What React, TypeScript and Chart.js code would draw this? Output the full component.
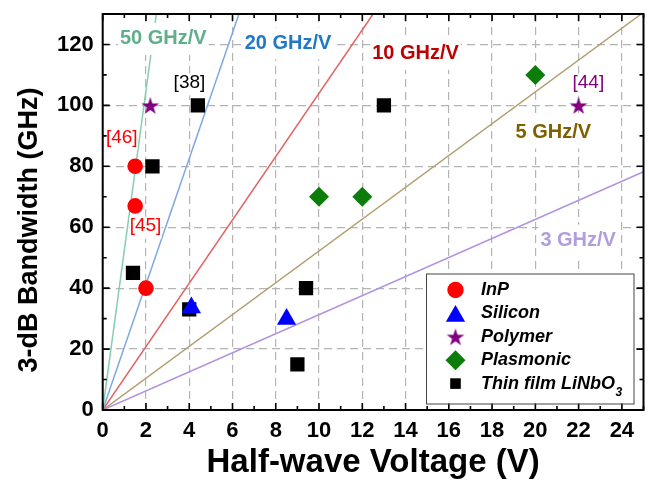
import React, { useEffect, useRef } from 'react';
import { Chart, registerables } from 'chart.js';

Chart.register(...registerables);

const FONT = '"Liberation Sans", Arial, Helvetica, sans-serif';

// ---- axis ticks ----
const xTicks = [0, 2, 4, 6, 8, 10, 12, 14, 16, 18, 20, 22, 24];
const yTicks = [0, 20, 40, 60, 80, 100, 120];
const xMax = 25;
const yMax = 130;

// ---- series ----
const inpX = [1.5, 1.5, 2.0];
const inpY = [80, 67, 40];
const siliconX = [4.1, 8.5];
const siliconY = [33.6, 29.8];
const polymerX = [2.2, 22];
const polymerY = [100, 100];
const plasmonicX = [10, 12, 20];
const plasmonicY = [70, 70, 110];
const lnX = [1.4, 2.3, 4.0, 4.4, 9.0, 9.4, 13.0];
const lnY = [45, 80, 33, 100, 15, 40, 100];

const seriesNames = ['InP', 'Silicon', 'Polymer', 'Plasmonic', 'Thin film LiNbO'];
const lnSubscript = '3';

// ---- guide lines (GHz/V) ----
const guideLabels = ['50 GHz/V', '20 GHz/V', '10 GHz/V', '5 GHz/V', '3 GHz/V'];
const guideEndX = [2.48, 6.3, 12.5, 24.9, 25];
const guideEndY = [130, 130, 130, 130, 78.2];
const guideLabelX = [2.8, 8.57, 14.46, 20.83, 21.98];
const guideLabelY = [121.8, 120.3, 116.9, 91.1, 55.6];

// ---- reference tags ----
const refTags = ['[38]', '[46]', '[45]', '[44]'];
const refTagX = [4.01, 0.88, 1.98, 22.45];
const refTagY = [106.9, 88.9, 59.8, 106.8];

// ---- styles ----
const guideLineColors = ['#86cdb0', '#7ea8e2', '#e26464', '#b39d70', '#b393df'];
const guideTextColors = ['#5fae8c', '#1f78c8', '#c00000', '#7f6000', '#b39ddc'];
const refTagColors = ['#000000', '#ff0000', '#ff0000', '#800080'];
const seriesColors = ['#ff0000', '#0000ff', '#800080', '#0a7d0a', '#000000'];

const pts = (xs: number[], ys: number[]) => xs.map((x, i) => ({ x, y: ys[i] }));

function makeStar(R: number, color: string): HTMLCanvasElement {
  const inner = R * 0.382;
  const w = Math.ceil(2 * R * Math.sin((72 * Math.PI) / 180)) + 2;
  const h = Math.ceil(R * (1 + Math.cos(Math.PI / 5))) + 2;
  const c = document.createElement('canvas');
  c.width = w;
  c.height = h;
  const ctx = c.getContext('2d')!;
  const cx = w / 2;
  const cy = h / 2 + (R * (1 - Math.cos(Math.PI / 5))) / 2;
  ctx.beginPath();
  for (let i = 0; i < 10; i++) {
    const r = i % 2 ? inner : R;
    const a = -Math.PI / 2 + (i * Math.PI) / 5;
    const px = cx + r * Math.cos(a);
    const py = cy + r * Math.sin(a);
    if (i === 0) ctx.moveTo(px, py);
    else ctx.lineTo(px, py);
  }
  ctx.closePath();
  ctx.fillStyle = color;
  ctx.fill();
  return c;
}

function drawMarker(ctx: CanvasRenderingContext2D, kind: number, x: number, y: number, star: HTMLCanvasElement) {
  ctx.fillStyle = seriesColors[kind];
  ctx.beginPath();
  if (kind === 0) {
    ctx.arc(x, y, 8.2, 0, Math.PI * 2);
    ctx.fill();
  } else if (kind === 1) {
    const r = 11.1;
    const top = y - 0.75 * r;
    ctx.moveTo(x, top);
    ctx.lineTo(x + (r * Math.sqrt(3)) / 2, top + 1.5 * r);
    ctx.lineTo(x - (r * Math.sqrt(3)) / 2, top + 1.5 * r);
    ctx.closePath();
    ctx.fill();
  } else if (kind === 2) {
    ctx.drawImage(star, x - star.width / 2, y - star.height / 2);
  } else if (kind === 3) {
    const r = 10;
    ctx.moveTo(x, y - r);
    ctx.lineTo(x + r, y);
    ctx.lineTo(x, y + r);
    ctx.lineTo(x - r, y);
    ctx.closePath();
    ctx.fill();
  } else {
    ctx.fillRect(x - 5.3, y - 5.3, 10.6, 10.6);
  }
}

const zeroPadding = (s: any) => {
  s.paddingLeft = 0;
  s.paddingRight = 0;
  s.paddingTop = 0;
  s.paddingBottom = 0;
};

export default function App() {
  const ref = useRef<HTMLCanvasElement>(null);

  useEffect(() => {
    if (!ref.current) return;
    const star = makeStar(9.3, seriesColors[2]);

    const overlayPlugin = {
      id: 'overlay',
      afterDatasetsDraw(chart: any) {
        const { ctx } = chart;
        const xs = chart.scales.x;
        const ys = chart.scales.y;
        ctx.save();
        ctx.font = `bold 20px ${FONT}`;
        ctx.textAlign = 'center';
        ctx.textBaseline = 'middle';
        guideLabels.forEach((t, i) => {
          const px = xs.getPixelForValue(guideLabelX[i]);
          const py = ys.getPixelForValue(guideLabelY[i]);
          const w = ctx.measureText(t).width;
          ctx.fillStyle = '#ffffff';
          ctx.fillRect(px - w / 2 - 2, py - 16, w + 4, 32);
          ctx.fillStyle = guideTextColors[i];
          ctx.fillText(t, px, py);
        });
        ctx.font = `19px ${FONT}`;
        refTags.forEach((t, i) => {
          const px = xs.getPixelForValue(refTagX[i]);
          const py = ys.getPixelForValue(refTagY[i]);
          const w = ctx.measureText(t).width;
          ctx.fillStyle = '#ffffff';
          ctx.fillRect(px - w / 2, py - 11, w, 22);
          ctx.fillStyle = refTagColors[i];
          ctx.fillText(t, px, py - 1.6);
        });
        ctx.restore();
      },
      afterDraw(chart: any) {
        const { ctx, chartArea: a } = chart;
        const xs = chart.scales.x;
        const ys = chart.scales.y;
        ctx.save();
        ctx.strokeStyle = '#000';
        ctx.lineWidth = 2;
        ctx.strokeRect(a.left, a.top, a.right - a.left, a.bottom - a.top);
        ctx.lineWidth = 1.6;
        ctx.beginPath();
        for (let v = 0; v <= xMax; v++) {
          const px = xs.getPixelForValue(v);
          const len = v % 2 === 0 ? 7 : 4;
          ctx.moveTo(px, a.bottom);
          ctx.lineTo(px, a.bottom - len);
          ctx.moveTo(px, a.top);
          ctx.lineTo(px, a.top + len);
        }
        for (let v = 0; v <= yMax; v += 10) {
          const py = ys.getPixelForValue(v);
          const len = v % 20 === 0 ? 7 : 4;
          ctx.moveTo(a.left, py);
          ctx.lineTo(a.left + len, py);
          ctx.moveTo(a.right, py);
          ctx.lineTo(a.right - len, py);
        }
        ctx.stroke();

        ctx.save();
        ctx.translate(30, (a.top + a.bottom) / 2 + 18);
        ctx.rotate(-Math.PI / 2);
        ctx.font = `bold 27px ${FONT}`;
        ctx.fillStyle = '#000';
        ctx.textAlign = 'center';
        ctx.textBaseline = 'middle';
        ctx.fillText('3-dB Bandwidth (GHz)', 0, 0);
        ctx.restore();

        const lx = 426, ly = 273.5, lw = 207.5, lh = 130;
        ctx.fillStyle = '#fff';
        ctx.fillRect(lx, ly, lw, lh);
        ctx.strokeStyle = '#444';
        ctx.lineWidth = 1;
        ctx.strokeRect(lx + 0.5, ly + 0.5, lw, lh);
        const rowY = [290, 313.4, 336.8, 360.2, 383.6];
        seriesNames.forEach((name, i) => {
          drawMarker(ctx, i, 455.5, rowY[i], star);
          ctx.fillStyle = '#000';
          ctx.font = `italic bold 18px ${FONT}`;
          ctx.textAlign = 'left';
          ctx.textBaseline = 'middle';
          ctx.fillText(name, 481, rowY[i]);
          if (i === 4) {
            const w = ctx.measureText(name).width;
            ctx.font = `italic bold 12px ${FONT}`;
            ctx.fillText(lnSubscript, 481 + w + 0.5, rowY[i] + 9);
          }
        });
        ctx.restore();
      },
    };

    const guideDatasets = guideLabels.map((label, i) => ({
      type: 'line' as const,
      label,
      data: [
        { x: 0, y: 0 },
        { x: guideEndX[i], y: guideEndY[i] },
      ],
      borderColor: guideLineColors[i],
      borderWidth: 1.5,
      pointRadius: 0,
      showLine: true,
      fill: false,
      order: 2,
    }));

    const common = { borderWidth: 0, order: 1 };
    const chart = new Chart(ref.current, {
      type: 'scatter',
      data: {
        datasets: [
          { ...common, label: seriesNames[0], data: pts(inpX, inpY), pointStyle: 'circle', pointRadius: 7.8, pointHoverRadius: 7.8, backgroundColor: seriesColors[0], borderColor: seriesColors[0] },
          { ...common, label: seriesNames[1], data: pts(siliconX, siliconY), pointStyle: 'triangle', pointRadius: 11.1, pointHoverRadius: 11.1, backgroundColor: seriesColors[1], borderColor: seriesColors[1] },
          { ...common, label: seriesNames[2], data: pts(polymerX, polymerY), pointStyle: star, pointRadius: 9, pointHoverRadius: 9, backgroundColor: seriesColors[2], borderColor: seriesColors[2] },
          { ...common, label: seriesNames[3], data: pts(plasmonicX, plasmonicY), pointStyle: 'rectRot', pointRadius: 10, pointHoverRadius: 10, backgroundColor: seriesColors[3], borderColor: seriesColors[3] },
          { ...common, label: seriesNames[4] + lnSubscript, data: pts(lnX, lnY), pointStyle: 'rect', pointRadius: 10.1, pointHoverRadius: 10.1, backgroundColor: seriesColors[4], borderColor: seriesColors[4] },
          ...guideDatasets,
        ] as any,
      },
      options: {
        responsive: false,
        animation: false,
        events: [],
        layout: { autoPadding: false, padding: { top: 14, right: 5.5, bottom: 0, left: 0 } },
        plugins: {
          legend: { display: false },
          tooltip: { enabled: false },
          title: { display: false },
        },
        scales: {
          x: {
            type: 'linear',
            min: 0,
            max: xMax,
            afterBuildTicks: (s: any) => {
              s.ticks = xTicks.map((v) => ({ value: v }));
            },
            afterFit: (s: any) => {
              s.height = 71;
              zeroPadding(s);
            },
            grid: { color: '#b4b4b4', lineWidth: 1.2, drawTicks: false },
            border: { display: false, dash: [8, 5] },
            ticks: {
              color: '#000',
              padding: 8,
              maxRotation: 0,
              autoSkip: false,
              font: { family: FONT, size: 22, weight: 'bold' },
            },
            title: {
              display: true,
              text: 'Half-wave Voltage (V)',
              color: '#000',
              padding: 0,
              font: { family: FONT, size: 33, weight: 'bold', lineHeight: 1.1 },
            },
          },
          y: {
            type: 'linear',
            min: 0,
            max: yMax,
            afterBuildTicks: (s: any) => {
              s.ticks = yTicks.map((v) => ({ value: v }));
            },
            afterFit: (s: any) => {
              s.width = 102.7;
              zeroPadding(s);
            },
            grid: { color: '#b4b4b4', lineWidth: 1.2, drawTicks: false },
            border: { display: false, dash: [8, 5] },
            ticks: {
              color: '#000',
              padding: 9,
              autoSkip: false,
              font: { family: FONT, size: 22, weight: 'bold' },
            },
            title: { display: false },
          },
        },
      } as any,
      plugins: [overlayPlugin],
    });
    return () => chart.destroy();
  }, []);

  return (
    <div style={{ position: 'fixed', left: 0, top: 0, width: 649, height: 481, background: '#fff' }}>
      <canvas ref={ref} width={649} height={481} style={{ display: 'block' }} />
    </div>
  );
}
